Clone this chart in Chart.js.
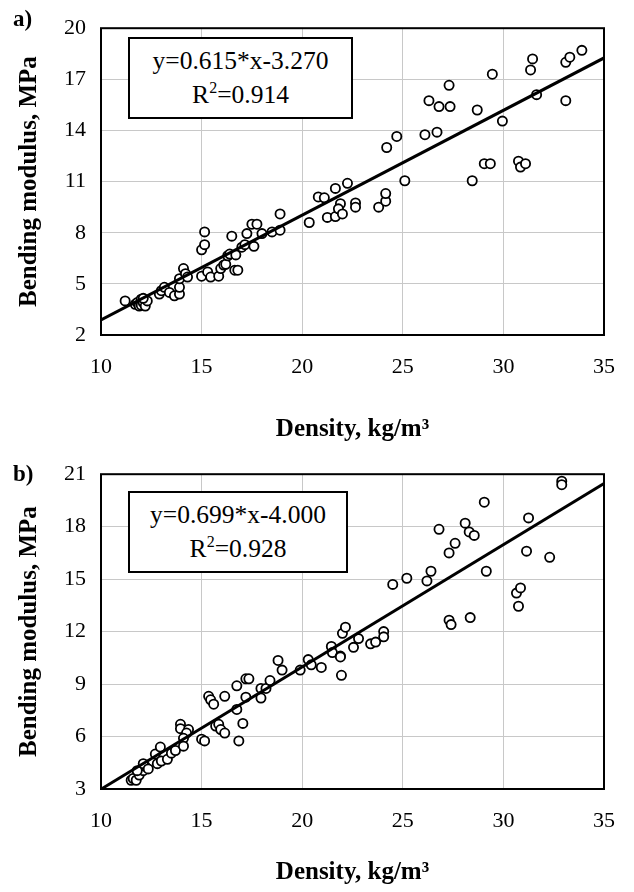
<!DOCTYPE html>
<html>
<head>
<meta charset="utf-8">
<script src="https://cdn.jsdelivr.net/npm/chart.js@4.4.1/dist/chart.umd.min.js"></script>
<style>
  body { margin: 0; background: #fff; }
  #wrap { position: relative; width: 634px; height: 892px; font-family: 'Liberation Serif', 'Times New Roman', serif; }
  canvas { position: absolute; left: 0; }
  .panel { position: absolute; font-weight: bold; font-size: 23px; line-height: 1; }
  .eq {
    position: absolute; box-sizing: border-box; border: 2px solid #000; background: #fff;
    display: flex; flex-direction: column; justify-content: center; align-items: center;
    font-size: 25.5px; line-height: 34px;
  }
  .eq sup { font-size: 16px; line-height: 0; vertical-align: 10px; }
</style>
</head>
<body>
<div id="wrap">
  <canvas id="chartA" width="634" height="446" style="top:0"></canvas>
  <canvas id="chartB" width="634" height="446" style="top:446px"></canvas>

  <div class="panel" style="left:13px;top:7px">a)</div>
  <div class="eq" style="left:128px;top:37px;width:225px;height:82px">
    <div>y=0.615*x-3.270</div>
    <div>R<sup>2</sup>=0.914</div>
  </div>

  <div class="panel" style="left:13px;top:462px">b)</div>
  <div class="eq" style="left:128px;top:491px;width:220px;height:82px">
    <div>y=0.699*x-4.000</div>
    <div>R<sup>2</sup>=0.928</div>
  </div>
</div>

<script>
// --- Panel a) data: density (kg/m3) vs bending modulus (MPa) ---

const densityA = [
  11.2, 11.7, 11.8, 11.9, 12.0, 12.0, 12.1, 12.2, 12.3, 12.1,
  12.9, 13.0, 13.15, 13.4, 13.65, 13.9, 13.9, 13.9, 14.1, 14.2, 14.3,
  15.0, 15.3, 15.45, 15.85, 15.95, 16.1, 16.2,
  15.15, 15.0, 15.15,
  16.3, 16.4, 16.5, 16.65, 16.8, 16.7,
  17.0, 17.15, 17.25, 17.5, 17.75, 17.6, 18.0, 18.5, 18.9, 18.9,
  20.35, 20.8, 21.1, 21.25, 21.65, 21.65, 21.9, 21.8, 22.0, 22.25,
  22.65, 22.65, 23.8, 24.15, 24.15, 24.2, 24.7, 25.1,
  26.1, 26.7, 26.3, 26.8, 27.35, 27.3,
  28.45, 28.7, 29.05, 29.35, 29.45, 29.95,
  30.75, 30.85, 31.1, 31.35, 31.45, 31.65,
  33.1, 33.3, 33.9, 33.1
];
const modulusA = [
  4.0, 3.8, 3.9, 3.7, 4.1, 3.75, 3.9, 3.7, 4.0, 4.15,
  4.4, 4.6, 4.8, 4.5, 4.3, 4.4, 4.8, 5.3, 5.9, 5.6, 5.4,
  5.45, 5.7, 5.4, 5.45, 5.9, 6.1, 6.15,
  8.05, 7.0, 7.3,
  6.65, 6.75, 7.8, 5.8, 5.8, 6.7,
  7.15, 7.3, 7.95, 8.5, 8.5, 7.2, 7.95, 8.05, 9.1, 8.15,
  8.6, 10.1, 10.05, 8.9, 8.95, 10.6, 9.7, 9.4, 9.1, 10.9,
  9.75, 9.5, 9.5, 9.85, 10.3, 13.0, 13.65, 11.05,
  13.75, 13.9, 15.75, 15.4, 15.4, 16.65,
  11.05, 15.2, 12.05, 12.05, 17.3, 14.55,
  12.2, 11.85, 12.05, 17.55, 18.2, 16.1,
  18.0, 18.3, 18.7, 15.75
];
// trend line end points (y=0.615*x-3.270)
const fitXA = [10, 35];
const fitYA = [2.88, 18.255];

// --- Panel b) data ---

const densityB = [
  11.5, 11.6, 11.75, 11.9, 12.1, 12.2, 11.8, 12.1, 12.35, 12.8,
  12.7, 12.95, 13.0, 13.3, 13.5, 13.7,
  13.95, 13.95, 14.35, 14.25, 14.1, 14.1,
  15.0, 15.15, 15.35, 15.45, 15.6, 15.7, 15.85, 15.95, 16.15, 16.15,
  16.75, 16.75, 17.05, 16.85, 17.2, 17.35, 17.2,
  17.95, 17.95, 18.2, 18.4, 18.8, 19.0,
  19.9, 20.3, 20.45, 20.95, 21.45, 21.5, 21.9, 21.95, 21.9,
  22.0, 22.15, 22.55, 22.8, 23.4, 23.65, 24.05, 24.05,
  24.5, 25.2, 26.2, 26.4, 26.8, 27.3, 27.6, 27.3, 27.4, 28.1, 28.3, 28.55, 28.35, 29.05, 29.15,
  30.65, 30.75, 30.85, 31.15, 31.25, 32.3, 32.9, 32.9
];
const modulusB = [
  3.5, 3.6, 3.5, 3.8, 4.05, 4.3, 4.05, 4.45, 4.15, 4.45,
  5.0, 5.4, 4.6, 4.7, 5.05, 5.2,
  6.7, 6.45, 6.4, 6.2, 5.9, 5.45,
  5.85, 5.75, 8.3, 8.1, 7.85, 6.6, 6.7, 6.4, 6.2, 8.3,
  8.9, 7.55, 6.75, 5.75, 9.3, 9.3, 8.25,
  8.75, 8.2, 8.75, 9.2, 10.35, 9.8,
  9.8, 10.4, 10.1, 9.95, 11.15, 10.8, 10.6, 9.5, 10.55,
  11.9, 12.25, 11.1, 11.6, 11.3, 11.4, 12.0, 11.7,
  14.7, 15.05, 14.9, 15.45, 17.85, 16.5, 17.05, 12.65, 12.4, 18.2, 17.7, 17.5, 12.8, 19.4, 15.45,
  14.2, 13.45, 14.5, 16.6, 18.5, 16.25, 20.6, 20.4
];
// trend line end points (y=0.699*x-4.000)
const fitXB = [10, 35];
const fitYB = [2.99, 20.465];

const xTicks = [10, 15, 20, 25, 30, 35];

const FONT = "'Liberation Serif', 'Times New Roman', serif";

// draws the black frame round the plot area
const framePlugin = {
  id: 'frame',
  afterDraw(chart) {
    const { ctx, chartArea: a } = chart;
    ctx.save();
    ctx.strokeStyle = '#000';
    ctx.lineWidth = 2;
    ctx.strokeRect(a.left, a.top, a.right - a.left, a.bottom - a.top);
    ctx.restore();
  }
};

function makeChart(id, xs, ys, fitX, fitY, yMin, yMax, opts) {
  const points = xs.map((x, i) => ({ x: x, y: ys[i] }));
  const fit = fitX.map((x, i) => ({ x: x, y: fitY[i] }));

  return new Chart(document.getElementById(id).getContext('2d'), {
    type: 'scatter',
    data: {
      datasets: [
        {
          type: 'line',
          data: fit,
          borderColor: '#000',
          borderWidth: 3,
          pointRadius: 0,
          fill: false,
          order: 0
        },
        {
          data: points,
          pointRadius: 4.6,
          pointBorderWidth: 1.8,
          pointBorderColor: '#000',
          pointBackgroundColor: '#fff',
          order: 1
        }
      ]
    },
    options: {
      responsive: false,
      animation: false,
      events: [],
      layout: { padding: { top: opts.padTop, right: 25, left: 0, bottom: 0 } },
      scales: {
        x: {
          type: 'linear',
          min: 10,
          max: 35,
          afterBuildTicks: (s) => { s.ticks = xTicks.map(v => ({ value: v })); },
          afterFit: (s) => { s.height = opts.xAxisHeight; },
          ticks: { color: '#000', padding: 19, font: { family: FONT, size: 22 } },
          grid: { color: '#c8c8c8', borderDash: [2, 2], drawTicks: false },
          border: { display: false },
          title: {
            display: true,
            text: 'Density, kg/m³',
            color: '#000',
            font: { family: FONT, size: 25, weight: 'bold' },
            padding: { top: 0, bottom: opts.titlePad }
          }
        },
        y: {
          min: yMin,
          max: yMax,
          ticks: { stepSize: 3, color: '#000', padding: 15, font: { family: FONT, size: 22 } },
          afterFit: (s) => { s.width = 101; },
          grid: { color: '#c8c8c8', borderDash: [2, 2], drawTicks: false },
          border: { display: false },
          title: {
            display: true,
            text: 'Bending modulus, MPa',
            color: '#000',
            font: { family: FONT, size: 25, weight: 'bold' },
            padding: { top: 15, bottom: 0 }
          }
        }
      },
      plugins: {
        legend: { display: false },
        tooltip: { enabled: false }
      }
    },
    plugins: [framePlugin]
  });
}

makeChart('chartA', densityA, modulusA, fitXA, fitYA, 2, 20,
  { padTop: 13, xAxisHeight: 111, titlePad: 1 });
makeChart('chartB', densityB, modulusB, fitXB, fitYB, 3, 21,
  { padTop: 22, xAxisHeight: 103, titlePad: 4 });
</script>
</body>
</html>
